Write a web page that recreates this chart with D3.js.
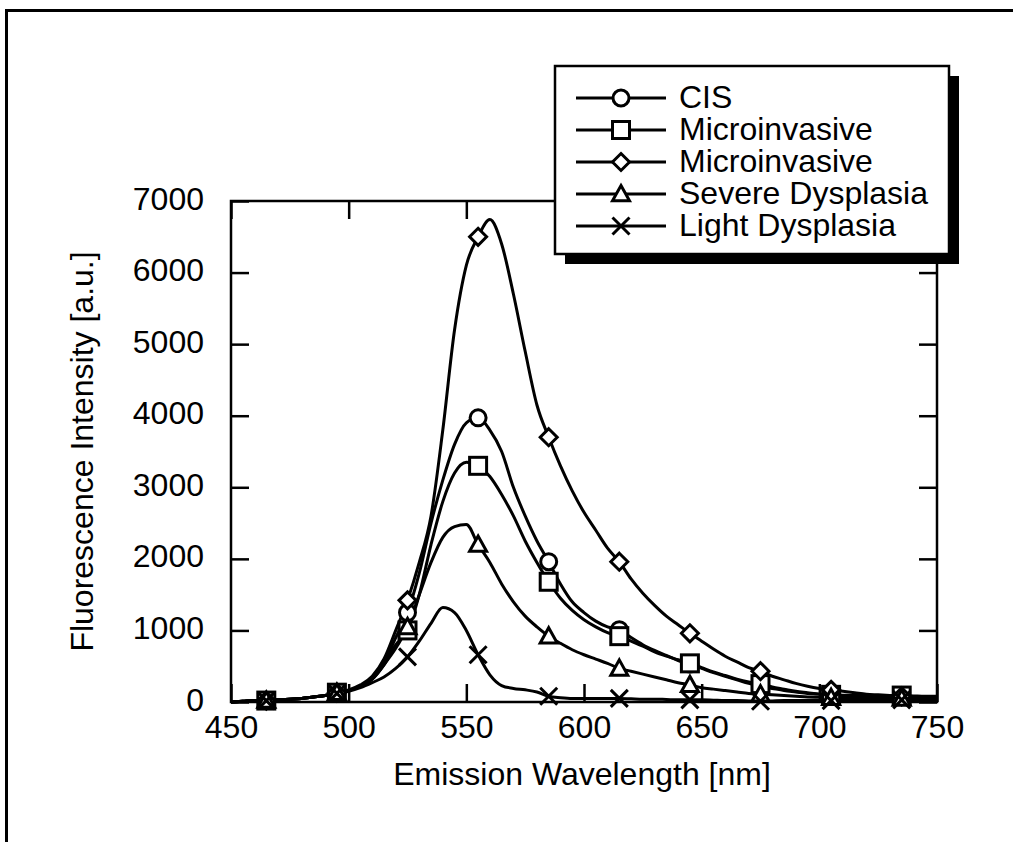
<!DOCTYPE html>
<html><head><meta charset="utf-8">
<script src="https://cdn.jsdelivr.net/npm/d3@7"></script>
<style>html,body{margin:0;padding:0;background:#fff;} svg{display:block;}</style>
</head><body>
<svg id="chart" width="1013" height="842"></svg>
<script>
// ---- data ----
const wavelengths = [450,455,460,465,470,475,480,485,490,495,500,505,510,515,520,525,530,535,540,545,550,555,560,565,570,575,580,585,590,595,600,605,610,615,620,625,630,635,640,645,650,655,660,665,670,675,680,685,690,695,700,705,710,715,720,725,730,735,740,745,750];
const seriesNames = ["CIS","Microinvasive","Microinvasive","Severe Dysplasia","Light Dysplasia"];
const seriesSymbols = ["circle","square","diamond","triangle","cross"];
const cisValues = [0,10,20,20,30,40,50,70,90,130,160,220,330,540,900,1250,1800,2500,3100,3600,3900,3970,3800,3500,3000,2600,2250,1960,1650,1400,1250,1130,1050,1010,900,800,720,650,580,530,470,410,360,310,260,220,190,160,140,120,110,100,90,85,80,80,80,80,75,75,70];
const micro1Values = [0,10,20,20,30,40,50,70,90,130,160,220,320,520,800,1000,1500,2200,2800,3200,3350,3300,3150,2900,2600,2250,1950,1680,1450,1280,1150,1050,970,920,850,780,700,640,590,540,480,420,370,320,280,250,210,180,150,130,110,100,95,90,90,90,90,90,85,80,80];
const micro2Values = [0,10,20,20,30,40,50,70,90,130,170,240,360,600,1000,1420,1950,2600,3800,5200,6100,6500,6740,6400,5700,4900,4150,3700,3300,2950,2650,2400,2150,1960,1720,1520,1350,1200,1080,960,850,740,640,560,480,430,360,310,260,220,190,170,150,130,110,100,90,80,75,70,65];
const severeValues = [0,10,20,20,30,40,50,70,90,130,160,220,320,520,750,1050,1500,1950,2300,2450,2480,2200,1950,1650,1400,1200,1050,920,820,730,660,600,540,470,430,390,350,310,270,240,200,180,160,140,120,110,100,90,80,70,65,60,55,50,50,50,50,50,50,50,50];
const lightValues = [0,10,20,20,30,40,50,70,90,120,150,200,270,350,470,630,850,1100,1320,1250,1000,660,380,230,190,170,140,80,60,50,50,50,50,50,45,40,40,35,30,30,30,25,20,20,15,10,15,20,20,20,20,20,25,25,30,30,30,30,30,30,30];
const seriesValues = [cisValues, micro1Values, micro2Values, severeValues, lightValues];
const markerWavelengths = [465,495,525,555,585,615,645,675,705,735];
const xTicks = [450,500,550,600,650,700,750];
const yTicks = [0,1000,2000,3000,4000,5000,6000,7000];
const xTitle = "Emission Wavelength [nm]";
const yTitle = "Fluorescence Intensity [a.u.]";

// ---- layout ----
const svg = d3.select("#chart");
const L = 231, R = 937, T = 201, B = 702;
const x = d3.scaleLinear().domain([450,750]).range([L,R]);
const y = d3.scaleLinear().domain([0,7000]).range([B,T]);
const font = "'Liberation Sans', Arial, Helvetica, sans-serif";
const SW = 3;

// outer frame (left and top edges only visible)
svg.append("path").attr("d", `M6.5,842 L6.5,10.5 L1013,10.5`).attr("fill","none").attr("stroke","#000").attr("stroke-width",3);

// plot frame
svg.append("rect").attr("x",L).attr("y",T).attr("width",R-L).attr("height",B-T)
  .attr("fill","none").attr("stroke","#000").attr("stroke-width",2.5);

// ticks (inward, all four sides)
const tl = 18;
const axB = svg.append("g").attr("transform",`translate(0,${B})`)
  .call(d3.axisBottom(x).tickValues(xTicks).tickSizeInner(-tl).tickSizeOuter(0).tickFormat(d3.format("d")));
const axT = svg.append("g").attr("transform",`translate(0,${T})`)
  .call(d3.axisTop(x).tickValues(xTicks).tickSizeInner(-tl).tickSizeOuter(0).tickFormat(""));
const axL = svg.append("g").attr("transform",`translate(${L},0)`)
  .call(d3.axisLeft(y).tickValues(yTicks).tickSizeInner(-tl).tickSizeOuter(0).tickFormat(d3.format("d")));
const axR = svg.append("g").attr("transform",`translate(${R},0)`)
  .call(d3.axisRight(y).tickValues(yTicks).tickSizeInner(-tl).tickSizeOuter(0).tickFormat(""));
[axB,axT,axL,axR].forEach(g=>{
  g.select(".domain").remove();
  g.selectAll(".tick line").attr("stroke","#000").attr("stroke-width",2.5);
  g.selectAll("text").attr("fill","#000").style("font-family",font).style("font-size","32px");
});
axB.selectAll(".tick text").attr("dy",null).attr("y",36);
axL.selectAll(".tick text").attr("x",-27).attr("dy",null).attr("y",8);

// curves
const line = d3.line().x((d,i)=>x(wavelengths[i])).y(d=>y(d)).curve(d3.curveMonotoneX);
const gCurves = svg.append("g");
seriesValues.forEach(vals=>{
  gCurves.append("path").datum(vals).attr("d",line)
    .attr("fill","none").attr("stroke","#000").attr("stroke-width",SW).attr("stroke-linejoin","round");
});

// marker drawing
function drawMarker(g, sym, cx, cy){
  const s = 8.5;
  if(sym==="circle"){
    g.append("circle").attr("cx",cx).attr("cy",cy).attr("r",8);
  } else if(sym==="square"){
    g.append("rect").attr("x",cx-s).attr("y",cy-s).attr("width",2*s).attr("height",2*s);
  } else if(sym==="diamond"){
    g.append("path").attr("d",`M${cx},${cy-s} L${cx+s},${cy} L${cx},${cy+s} L${cx-s},${cy} Z`);
  } else if(sym==="triangle"){
    g.append("path").attr("d",`M${cx},${cy-s} L${cx+s},${cy+s*0.8} L${cx-s},${cy+s*0.8} Z`);
  } else {
    g.append("path").attr("d",`M${cx-s},${cy-s} L${cx+s},${cy+s} M${cx+s},${cy-s} L${cx-s},${cy+s}`);
  }
}
function valueAt(vals, w){
  return vals[wavelengths.indexOf(w)];
}
const gMarks = svg.append("g").attr("stroke","#000").attr("stroke-width",SW).attr("fill","#fff");
seriesValues.forEach((vals,k)=>{
  markerWavelengths.forEach(w=>{
    drawMarker(gMarks, seriesSymbols[k], x(w), y(valueAt(vals,w)));
  });
});

// axis titles
svg.append("text").attr("x",(L+R)/2 - 2).attr("y",785).attr("text-anchor","middle")
  .style("font-family",font).style("font-size","32px").attr("fill","#000").text(xTitle);
svg.append("text").attr("transform",`translate(93,${(T+B)/2}) rotate(-90)`).attr("text-anchor","middle")
  .style("font-family",font).style("font-size","32px").attr("fill","#000").text(yTitle);

// legend
const lgX = 555, lgY = 66, lgW = 394, lgH = 188, sh = 10;
svg.append("rect").attr("x",lgX+sh).attr("y",lgY+sh).attr("width",lgW).attr("height",lgH).attr("fill","#000");
svg.append("rect").attr("x",lgX).attr("y",lgY).attr("width",lgW).attr("height",lgH)
  .attr("fill","#fff").attr("stroke","#000").attr("stroke-width",2.5);
const gLeg = svg.append("g");
seriesNames.forEach((name,k)=>{
  const ly = 98 + k*32;
  gLeg.append("line").attr("x1",576).attr("x2",666).attr("y1",ly).attr("y2",ly)
    .attr("stroke","#000").attr("stroke-width",SW);
  const gm = gLeg.append("g").attr("stroke","#000").attr("stroke-width",SW).attr("fill","#fff");
  drawMarker(gm, seriesSymbols[k], 621, ly);
  gLeg.append("text").attr("x",679).attr("y",ly+10).style("font-family",font).style("font-size","32px")
    .attr("fill","#000").text(name);
});
</script>
</body></html>
